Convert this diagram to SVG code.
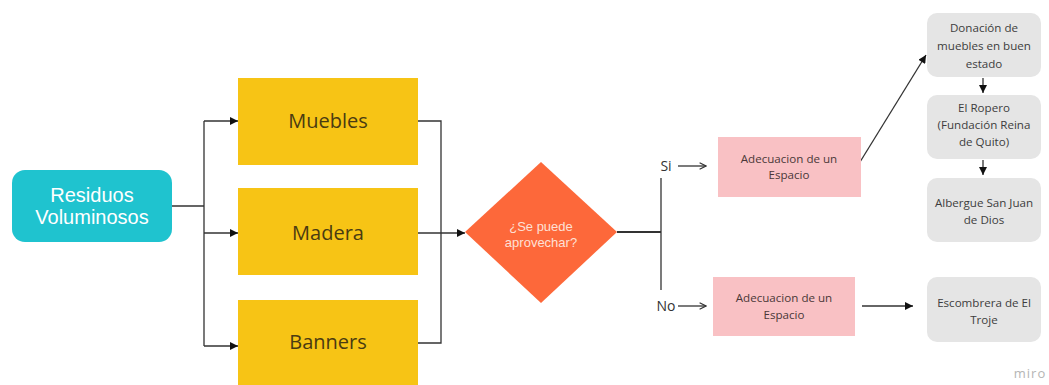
<svg xmlns="http://www.w3.org/2000/svg" width="1049" height="385" viewBox="0 0 1049 385">
<defs>
<marker id="ah" viewBox="0 0 10 10" refX="10" refY="5" markerWidth="10" markerHeight="8" markerUnits="userSpaceOnUse" orient="auto">
<path d="M0,0 L10,5 L0,10 z" fill="#111"/>
</marker>
<marker id="oh" viewBox="0 0 10 10" refX="9" refY="5" markerWidth="8" markerHeight="10" markerUnits="userSpaceOnUse" orient="auto">
<path d="M1,1 L9,5 L1,9" fill="none" stroke="#333" stroke-width="1.4"/>
</marker>
</defs>
<style>
.ln{fill:none;stroke:#333;stroke-width:1.3}
.y{fill:#f7c415}
.yt{font-family:"Open Sans","Liberation Sans",sans-serif;font-size:20px;fill:#4a3b12;text-anchor:middle}
.p{fill:#f9c1c4}
.pt{font-family:"Open Sans","Liberation Sans",sans-serif;font-size:11.6px;fill:#4a3838;text-anchor:middle}
.g{fill:#e5e5e5}
.gt{font-family:"Open Sans","Liberation Sans",sans-serif;font-size:11.6px;fill:#3d3d3d;text-anchor:middle}
.lb{font-family:"Open Sans","Liberation Sans",sans-serif;font-size:14px;fill:#333;text-anchor:middle}
</style>
<rect width="1049" height="385" fill="#ffffff"/>
<g id="connectors">
<path class="ln" d="M172,206 H204 M204,121 V346"/>
<path class="ln" d="M204,121 H238" marker-end="url(#ah)"/>
<path class="ln" d="M204,233 H238" marker-end="url(#ah)"/>
<path class="ln" d="M204,346 H238" marker-end="url(#ah)"/>
<path class="ln" d="M418,121 H441 V343 H418"/>
<path class="ln" d="M418,233 H465" marker-end="url(#ah)"/>
<path d="M617,232 H661" fill="none" stroke="#333" stroke-width="2.2"/>
<path class="ln" d="M661,178 V290" stroke-width="1.8"/>
<path class="ln" d="M678,166 H706" marker-end="url(#oh)"/>
<path class="ln" d="M678,306 H706" marker-end="url(#oh)"/>
<path class="ln" d="M860,162 L926,55" marker-end="url(#ah)"/>
<path class="ln" d="M862,306 H913" marker-end="url(#ah)"/>
<path class="ln" d="M983,78 V93" marker-end="url(#ah)"/>
<path class="ln" d="M983,160 V175" marker-end="url(#ah)"/>
</g>
<g id="residuos">
<rect x="12" y="170" width="160" height="72" rx="13" fill="#1fc3cf"/>
<text x="92" y="202" font-family="'Liberation Sans',Arial,sans-serif" font-size="20" fill="#ffffff" text-anchor="middle">Residuos</text>
<text x="92" y="224" font-family="'Liberation Sans',Arial,sans-serif" font-size="20" fill="#ffffff" text-anchor="middle">Voluminosos</text>
</g>
<g id="muebles">
<rect class="y" x="238" y="78" width="180" height="87"/>
<text class="yt" x="328" y="128">Muebles</text>
</g>
<g id="madera">
<rect class="y" x="238" y="188" width="180" height="87"/>
<text class="yt" x="328" y="240">Madera</text>
</g>
<g id="banners">
<rect class="y" x="238" y="300" width="180" height="90"/>
<text class="yt" x="328" y="349">Banners</text>
</g>
<g id="decision">
<polygon points="541,162 617,232 541,303 465,232" fill="#fd683a"/>
<text x="541" y="231" font-family="'Liberation Sans',Arial,sans-serif" font-size="13" fill="#fde0d6" text-anchor="middle">¿Se puede</text>
<text x="541" y="247" font-family="'Liberation Sans',Arial,sans-serif" font-size="13" fill="#fde0d6" text-anchor="middle">aprovechar?</text>
</g>
<g id="label-si"><text class="lb" x="666" y="171">Si</text></g>
<g id="label-no"><text class="lb" x="666" y="311">No</text></g>
<g id="adecuacion-si">
<rect class="p" x="718" y="137" width="143" height="60"/>
<text class="pt" x="789" y="163">Adecuacion de un</text>
<text class="pt" x="789" y="179">Espacio</text>
</g>
<g id="adecuacion-no">
<rect class="p" x="713" y="277" width="142" height="59"/>
<text class="pt" x="784" y="302">Adecuacion de un</text>
<text class="pt" x="784" y="319">Espacio</text>
</g>
<g id="donacion">
<rect class="g" x="927" y="13" width="114" height="64" rx="10"/>
<text class="gt" x="984" y="32">Donación de</text>
<text class="gt" x="984" y="50">muebles en buen</text>
<text class="gt" x="984" y="68">estado</text>
</g>
<g id="ropero">
<rect class="g" x="927" y="95" width="114" height="64" rx="10"/>
<text class="gt" x="984" y="112">El Ropero</text>
<text class="gt" x="984" y="129">(Fundación Reina</text>
<text class="gt" x="984" y="146">de Quito)</text>
</g>
<g id="albergue">
<rect class="g" x="927" y="178" width="114" height="64" rx="10"/>
<text class="gt" x="984" y="207">Albergue San Juan</text>
<text class="gt" x="984" y="224">de Dios</text>
</g>
<g id="escombrera">
<rect class="g" x="927" y="277" width="114" height="65" rx="10"/>
<text class="gt" x="984" y="307">Escombrera de El</text>
<text class="gt" x="984" y="324">Troje</text>
</g>
<text x="1030" y="378" font-family="'Open Sans','Liberation Sans',sans-serif" font-size="13" fill="#b5b5b5" text-anchor="middle" letter-spacing="1">miro</text>
</svg>
